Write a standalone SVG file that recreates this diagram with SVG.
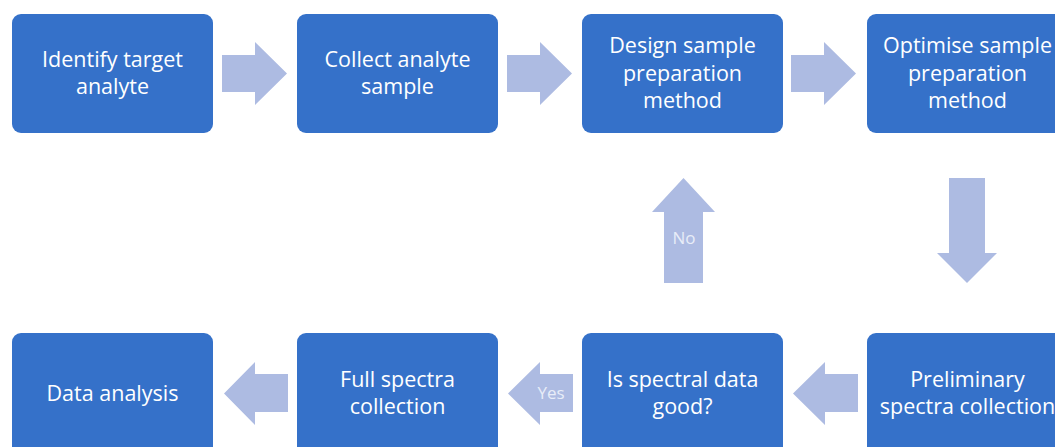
<svg xmlns="http://www.w3.org/2000/svg" width="1055" height="447" viewBox="0 0 1055 447">
<style>
.box{fill:#3571c9}
.t{font-family:"Open Sans","Noto Sans","Liberation Sans",sans-serif;font-size:21.5px;fill:#ffffff;text-anchor:middle}
.arr{fill:#adbbe2}
.lbl{font-family:"Open Sans","Noto Sans","Liberation Sans",sans-serif;font-size:17px;fill:#e8edf8;text-anchor:middle}
</style>
<rect width="1055" height="447" fill="#ffffff"/>
<g id="connectors">
<polygon class="arr" points="222,55 255,55 255,42 287,73.5 255,105 255,92 222,92"/>
<polygon class="arr" points="507,55 540,55 540,42 572,73.5 540,105 540,92 507,92"/>
<polygon class="arr" points="791,55 824,55 824,42 856,73.5 824,105 824,92 791,92"/>
<polygon class="arr" points="949,178 985,178 985,253 997,253 967,283 937,253 949,253"/>
<polygon class="arr" points="858,374 825,374 825,362 793,393.5 825,425 825,412 858,412"/>
<polygon class="arr" points="573,374 540,374 540,362 508,393.5 540,425 540,412 573,412"/>
<polygon class="arr" points="288,374 255,374 255,362 224,393.5 255,425 255,412 288,412"/>
<polygon class="arr" points="664,283 703,283 703,212 715,212 683.5,178 652,212 664,212"/>
<text class="lbl" x="684" y="244">No</text>
<text class="lbl" x="551" y="399">Yes</text>
</g>
<g id="n1"><rect class="box" x="12" y="14" width="201" height="119" rx="9"/>
<text class="t" x="112.5" y="67">Identify target</text><text class="t" x="112.5" y="94">analyte</text></g>
<g id="n2"><rect class="box" x="297" y="14" width="201" height="119" rx="9"/>
<text class="t" x="397.5" y="67">Collect analyte</text><text class="t" x="397.5" y="94">sample</text></g>
<g id="n3"><rect class="box" x="582" y="14" width="201" height="119" rx="9"/>
<text class="t" x="682.5" y="53">Design sample</text><text class="t" x="682.5" y="80.5">preparation</text><text class="t" x="682.5" y="108">method</text></g>
<g id="n4"><rect class="box" x="867" y="14" width="201" height="119" rx="9"/>
<text class="t" x="967.5" y="53">Optimise sample</text><text class="t" x="967.5" y="80.5">preparation</text><text class="t" x="967.5" y="108">method</text></g>
<g id="n5"><rect class="box" x="867" y="333" width="201" height="125" rx="9"/>
<text class="t" x="967.5" y="387">Preliminary</text><text class="t" x="967.5" y="414">spectra collection</text></g>
<g id="n6"><rect class="box" x="582" y="333" width="201" height="125" rx="9"/>
<text class="t" x="682.5" y="387">Is spectral data</text><text class="t" x="682.5" y="414">good?</text></g>
<g id="n7"><rect class="box" x="297" y="333" width="201" height="125" rx="9"/>
<text class="t" x="397.5" y="387">Full spectra</text><text class="t" x="397.5" y="414">collection</text></g>
<g id="n8"><rect class="box" x="12" y="333" width="201" height="125" rx="9"/>
<text class="t" x="112.5" y="401">Data analysis</text></g>
</svg>
